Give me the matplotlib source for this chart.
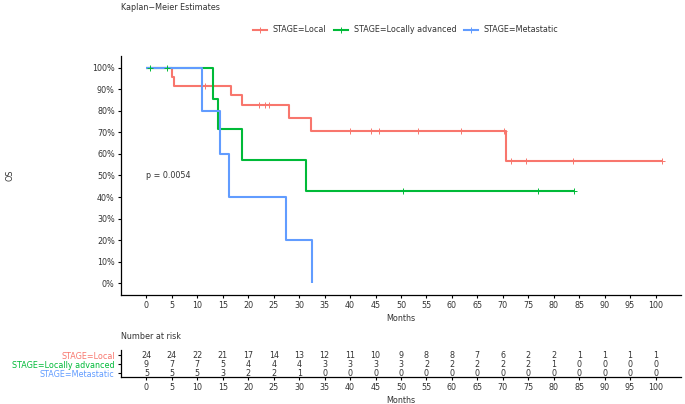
import numpy as np
import matplotlib
matplotlib.use("Agg")
import matplotlib.pyplot as plt

# survival steps (time of drop, level after drop)
groups = ["STAGE=Local", "STAGE=Locally advanced", "STAGE=Metastatic"]
colors = ["#F8766D", "#00BA38", "#619CFF"]

local_t = [0, 5.0, 5.5, 16.6, 18.7, 28.0, 32.4, 70.7]
local_s = [1.0, 0.958, 0.917, 0.873, 0.829, 0.766, 0.707, 0.566]
local_end = 101.2
local_cens = [11.5, 22.2, 23.2, 24.0, 39.9, 44.2, 45.7, 53.3, 61.7, 70.2,
              71.7, 74.6, 83.8, 101.2]

adv_t = [0, 13.0, 14.0, 18.8, 31.3]
adv_s = [1.0, 0.857, 0.714, 0.571, 0.429]
adv_end = 84.0
adv_cens = [0.7, 4.0, 50.4, 76.9, 84.0]

met_t = [0, 10.9, 14.5, 16.2, 27.4, 32.6]
met_s = [1.0, 0.8, 0.6, 0.4, 0.2, 0.0]
met_end = 32.6
met_cens = []

# number at risk table
risk_times = list(range(0, 101, 5))
risk_local = [24, 24, 22, 21, 17, 14, 13, 12, 11, 10, 9, 8, 8, 7, 6, 2, 2, 1, 1, 1, 1]
risk_adv = [9, 7, 7, 5, 4, 4, 4, 3, 3, 3, 3, 2, 2, 2, 2, 2, 1, 0, 0, 0, 0]
risk_met = [5, 5, 5, 3, 2, 2, 1, 0, 0, 0, 0, 0, 0, 0, 0, 0, 0, 0, 0, 0, 0]

p_text = "p = 0.0054"

W, H = 685, 404
fs = 5.8
txt = "#333333"
plt.rcParams["font.family"] = ["DejaVu Sans"]

fig = plt.figure(figsize=(W / 100, H / 100), dpi=100)


def box(l, t, r, b):
    return [l / W, 1 - b / H, (r - l) / W, (b - t) / H]


ax = fig.add_axes(box(121, 56, 681, 295))
curves = [(local_t, local_s, local_end, local_cens),
          (adv_t, adv_s, adv_end, adv_cens),
          (met_t, met_s, met_end, met_cens)]

for (t, s, end, _), c in zip(curves, colors):
    xs = list(t) + [end]
    ys = list(s) + [s[-1]]
    ax.step(xs, ys, where="post", color=c, lw=1.5, solid_capstyle="butt")
for (t, s, end, cens), c in zip(curves, colors):
    if cens:
        idx = np.searchsorted(t, cens, side="right") - 1
        ax.plot(cens, np.array(s)[idx], ls="none", marker="+", ms=4, mew=0.7, color=c)

ax.text(0, 0.5, p_text, fontsize=fs, color=txt, ha="left", va="center")

ax.set_xlim(-5, 105)
ax.set_ylim(-0.055, 1.055)
ax.set_xticks(risk_times)
ax.set_yticks(np.arange(0, 1.01, 0.1))
ax.set_yticklabels([f"{int(round(v * 100))}%" for v in np.arange(0, 1.01, 0.1)])
ax.set_xlabel("Months", fontsize=fs, color=txt, labelpad=3)
ax.set_ylabel("OS", fontsize=fs, color=txt)
ax.yaxis.set_label_coords(-0.19, 0.5)
for sp in ["top", "right"]:
    ax.spines[sp].set_visible(False)
for sp in ["left", "bottom"]:
    ax.spines[sp].set_linewidth(0.9)
ax.tick_params(labelsize=fs, labelcolor=txt, length=2.5, width=0.8, pad=2)

# legend
handles = [plt.Line2D([], [], color=c, lw=1.5, marker="+", ms=4, mew=0.7) for c in colors]
fig.legend(handles, groups, loc="center", bbox_to_anchor=(406 / W, 1 - 30 / H),
           ncol=3, frameon=False, fontsize=fs, handlelength=1.7, handletextpad=0.7,
           columnspacing=1.0, labelcolor=txt)

fig.text(121 / W, 1 - 7 / H, "Kaplan\u2212Meier Estimates", fontsize=fs, color=txt,
         ha="left", va="center")

# risk table
rax = fig.add_axes(box(121, 350, 681, 377))
rows = [risk_local, risk_adv, risk_met]
for k, (vals, c) in enumerate(zip(rows, colors)):
    yrow = 3 - k
    for x, v in zip(risk_times, vals):
        rax.text(x, yrow, str(v), fontsize=fs, color=txt, ha="center", va="center")
rax.set_xlim(-5, 105)
rax.set_ylim(0.56, 3.56)
rax.set_xticks(risk_times)
rax.set_yticks([3, 2, 1])
rax.set_yticklabels(groups)
for sp in ["top", "right"]:
    rax.spines[sp].set_visible(False)
for sp in ["left", "bottom"]:
    rax.spines[sp].set_linewidth(0.9)
rax.tick_params(labelsize=fs, labelcolor=txt, length=2.5, width=0.8, pad=2)
for lab, c in zip(rax.get_yticklabels(), colors):
    lab.set_color(c)
rax.set_xlabel("Months", fontsize=fs, color=txt, labelpad=3)
rax.set_title("Number at risk", fontsize=fs, color=txt, loc="left", x=0, pad=8)

fig.savefig("out.png", dpi=100)
